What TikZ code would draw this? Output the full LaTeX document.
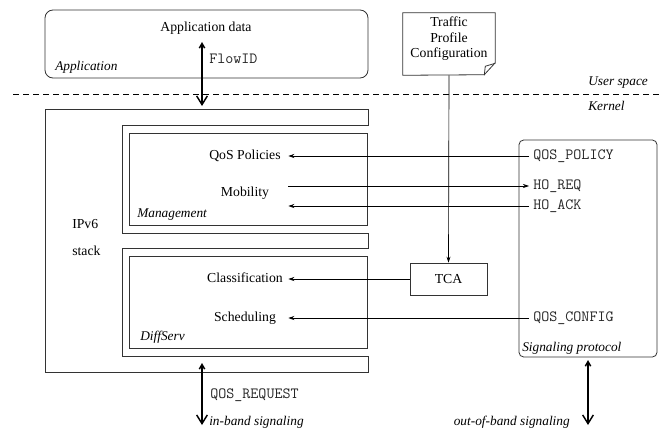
\documentclass[tikz,border=0pt]{standalone}
\usepackage{fontspec}
\setmainfont{Liberation Serif}
\usetikzlibrary{arrows.meta}

\begin{document}
\begin{tikzpicture}[x=0.75pt,y=-0.75pt,>={Stealth[length=4.5pt,width=3pt]},font=\fontsize{10.3}{11.6}\selectfont,
	frame/.style={draw=black!80,line width=0.6pt},
	lbl/.style={inner sep=0pt,text height=7pt,text depth=2pt},
	msg/.style={lbl,inner xsep=3pt,font=\fontsize{11.7}{12}\selectfont\ttfamily,text=black!85,anchor=west},
	unit/.style={lbl,minimum width=64.5pt},
	tag/.style={lbl,font=\itshape,anchor=west},
	bus/.style={line width=1.1pt,{Straight Barb[length=3.5pt,width=4pt]}-{Straight Barb[length=6.5pt,width=8pt]}}]
	\useasboundingbox (0,0) rectangle (663,428);
	\node (app) [frame,rounded corners=6pt,minimum width=242.25pt,minimum height=51pt] at (206.5,44) {};
	\node (appdata) [lbl] at (206,28) {Application data};
	\node (applbl) [tag] at (55,67) {Application};
	\node (flowid) [msg] at (205,60) {FlowID};
	\coordinate (flowtop) at (202,42);
	\coordinate (flowbot) at (202,106);
	\draw[bus] (flowtop) -- (flowbot);
	\coordinate (sepl) at (13,94);
	\coordinate (sepr) at (663,94);
	\draw[line width=0.5pt,dash pattern=on 4.5pt off 3pt] (sepl) -- (sepr);
	\node (user) [tag] at (588,82) {User space};
	\node (kern) [tag] at (588,107) {Kernel};
	\node (note) [minimum width=69pt,minimum height=46.5pt,inner sep=0pt] at (449,44) {};
	\draw[frame] (note.south west) -- (note.north west) -- (note.north east) -- ++(0,50) -- ++(-11,12) -- cycle;
	\draw[frame] (note.south east) ++(-11,0) -- ++(1,-9) -- ++(10,-3);
	\node (notetxt) [align=center] at (449,39) {Traffic\\Profile\\Configuration};
	\node (tca) [frame,minimum width=57.75pt,minimum height=24pt] at (448.5,279) {TCA};
	\draw[->,line width=0.5pt] (note.south) -- (tca.north);
	\draw[frame] (368,109) -- (45,109) -- (45,372) -- (368,372) -- (368,356) -- (122,356) -- (122,248) -- (368,248) -- (368,233) -- (122,233) -- (122,125) -- (368,125) -- cycle;
	\node (mgmt) [frame,minimum width=178.5pt,minimum height=69pt] at (248,179) {};
	\node (dsrv) [frame,minimum width=178.5pt,minimum height=69pt] at (248,302) {};
	\node (mgmtlbl) [tag] at (137,214) {Management};
	\node (dsrvlbl) [tag] at (140,337) {DiffServ};
	\node (ipv6) [lbl,anchor=west] at (72,225) {IPv6};
	\node (stack) [lbl,anchor=west] at (72,252) {stack};
	\node (qospol) [unit] at (245,156) {QoS Policies};
	\node (mob) [unit] at (245,193) {Mobility};
	\node (cls) [unit] at (245,279) {Classification};
	\node (sched) [unit] at (245,318) {Scheduling};
	\node (sig) [frame,rounded corners=3.5pt,minimum width=103.5pt,minimum height=162.75pt] at (588,248.5) {};
	\node (siglbl) [tag] at (522,348) {Signaling protocol};
	\node (qpol) [msg] at (529,156) {QOS\_POLICY};
	\node (hreq) [msg] at (529,186) {HO\_REQ};
	\node (hack) [msg] at (529,206) {HO\_ACK};
	\node (qconf) [msg] at (529,318) {QOS\_CONFIG};
	\draw[->,line width=0.5pt] (qpol.west) -- (qospol.east);
	\draw[->,line width=0.5pt] (mob.east |- hreq.west) -- (hreq.west);
	\draw[->,line width=0.5pt] (hack.west) -- (mob.east |- hack.west);
	\draw[->,line width=0.5pt] (tca.west) -- (cls.east);
	\draw[->,line width=0.5pt] (qconf.west) -- (sched.east);
	\coordinate (ibtop) at (202,363);
	\coordinate (ibbot) at (202,425);
	\draw[bus] (ibtop) -- (ibbot);
	\node (qreq) [msg] at (206,395) {QOS\_REQUEST};
	\node (inband) [tag] at (209,422) {in-band signaling};
	\coordinate (oobbot) at (588,425);
	\draw[bus,shorten <=2pt] (sig.south) -- (oobbot);
	\node (oob) [tag,anchor=east] at (570,422) {out-of-band signaling};
\end{tikzpicture}
\end{document}
